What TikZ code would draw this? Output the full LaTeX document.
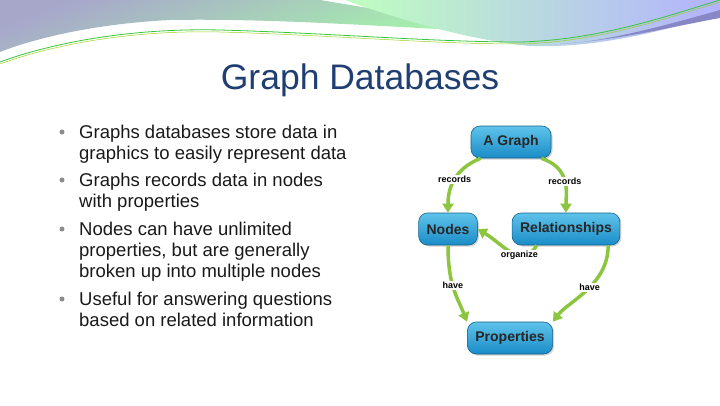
\documentclass[tikz,border=0pt]{standalone}
\usepackage{fontspec}
\setmainfont{Liberation Sans}
\usetikzlibrary{arrows.meta,shadows}
\definecolor{titleblue}{HTML}{1F3F73}
\definecolor{arrowgreen}{HTML}{8CC63F}
\definecolor{boxtop}{HTML}{5FC3EA}
\definecolor{boxbot}{HTML}{1A8CC8}
\tikzset{
  gbox/.style={draw=boxbot!70!black, line width=0.6pt, rounded corners=9pt, top color=boxtop, bottom color=boxbot,
    minimum height=32pt, inner xsep=8pt, font=\fontsize{14}{16}\selectfont\bfseries, text=black!85,
    drop shadow={opacity=0.35, shadow xshift=1.5pt, shadow yshift=-1.5pt}},
  garrow/.style={draw=arrowgreen, line width=3.5pt, -{Triangle[length=9pt,width=11pt]}},
  glabel/.style={fill=white, inner sep=1pt, font=\fontsize{9}{10}\selectfont\bfseries, text=black},
  bullettext/.style={anchor=base west, inner sep=0pt, font=\fontsize{18.5}{21}\selectfont, text=black!90},
  bulletdot/.style={circle, fill=black!45, inner sep=0pt, minimum size=5pt}
}
\begin{document}
\begin{tikzpicture}[x=1pt,y=-1pt]
\useasboundingbox (0,0) rectangle (720,405);
% top decoration
\shade[top color=blue!25!gray!55, bottom color=green!35!white, shading angle=20]
  (0,0) -- (320,0) -- (520,33) .. controls (400,28) and (280,18) .. (170,20)
  .. controls (90,24) and (30,40) .. (0,52) -- cycle;
\shade[left color=green!25!white, right color=blue!30!white]
  (345,0) -- (720,0) -- (720,14) .. controls (650,35) and (590,48) .. (530,46)
  .. controls (470,40) and (400,20) .. (345,0) -- cycle;
\fill[blue!35!gray!70] (720,10) .. controls (650,30) and (600,42) .. (560,44) .. controls (620,40) and (680,25) .. (720,18) -- cycle;
\draw[green!55!gray, line width=0.8pt] (0,62) .. controls (60,40) and (140,28) .. (220,30) .. controls (330,33) and (430,42) .. (520,42) .. controls (600,40) and (670,15) .. (720,0);
\draw[yellow!60!green, line width=0.5pt] (0,64) .. controls (60,42) and (140,30) .. (220,32) .. controls (330,35) and (430,44) .. (520,44) .. controls (600,42) and (670,17) .. (720,2);
% title
\node[font=\fontsize{35.5}{40}\selectfont, text=titleblue] (title) at (360,80) {Graph Databases};
% bullets
\foreach \y in {132,180,229,299} \node[bulletdot] at (62,\y) {};
\node[bullettext] (b1) at (79,138) {Graphs databases store data in};
\node[bullettext] (b1b) at (79,159) {graphics to easily represent data};
\node[bullettext] (b2) at (79,186) {Graphs records data in nodes};
\node[bullettext] (b2b) at (79,207) {with properties};
\node[bullettext] (b3) at (79,235) {Nodes can have unlimited};
\node[bullettext] (b3b) at (79,256) {properties, but are generally};
\node[bullettext] (b3c) at (79,277) {broken up into multiple nodes};
\node[bullettext] (b4) at (79,305) {Useful for answering questions};
\node[bullettext] (b4b) at (79,326) {based on related information};
% graph
\node[gbox, minimum width=80pt] (ag) at (511,142) {A Graph};
\node[gbox, minimum width=58pt] (nd) at (448,229) {Nodes};
\node[gbox, minimum width=100pt] (rl) at (566,229) {Relationships};
\node[gbox, minimum width=82pt] (pr) at (510,338) {Properties};
\draw[garrow] (ag.south west) ++(10,0) .. controls +(-30,12) and +(0,-20) .. (nd.north)
  node[glabel, pos=0.45] {records};
\draw[garrow] (ag.south east) ++(-10,0) .. controls +(30,10) and +(0,-20) .. (rl.north)
  node[glabel, pos=0.5] {records};
\draw[garrow] (rl.south west) ++(25,0) .. controls +(-15,25) and +(25,15) .. (nd.east)
  node[glabel, pos=0.35] {organize};
\draw[garrow] (nd.south) .. controls +(0,40) and +(-10,-25) .. (pr.north west)
  node[glabel, pos=0.45] {have};
\draw[garrow] (rl.south east) ++(-12,0) .. controls +(0,40) and +(15,-20) .. (pr.north east)
  node[glabel, pos=0.45] {have};
\end{tikzpicture}
\end{document}
